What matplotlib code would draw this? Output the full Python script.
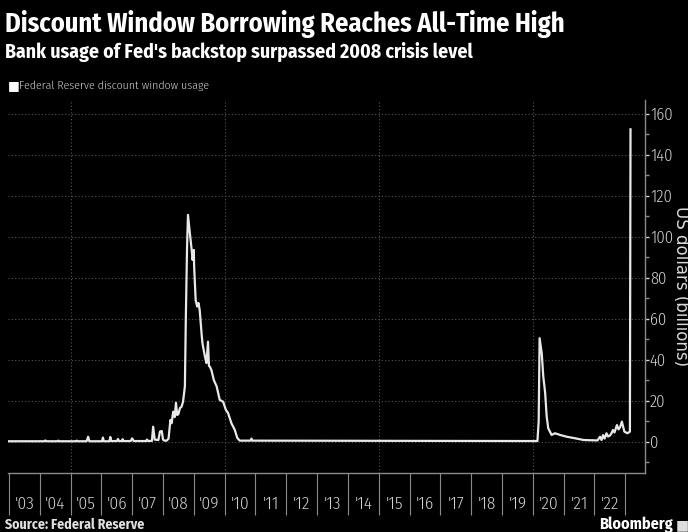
import numpy as np
import matplotlib
matplotlib.use("Agg")
import matplotlib.pyplot as plt
from matplotlib.ticker import FixedLocator, NullFormatter, FixedFormatter

## Data (decimal years, US$ billions)
dates = [2003.00, 2004.15, 2004.18, 2004.21, 2004.58, 2004.60, 2004.63, 2005.18, 2005.20, 2005.23,
         2005.52, 2005.57, 2005.61, 2006.02, 2006.05, 2006.08, 2006.26, 2006.29, 2006.32, 2006.50,
         2006.54, 2006.57, 2006.66, 2006.69, 2006.72, 2006.95, 2007.00, 2007.05, 2007.45, 2007.48,
         2007.52, 2007.64, 2007.68, 2007.73, 2007.85, 2007.90, 2007.96, 2008.00, 2008.05, 2008.12,
         2008.18, 2008.24, 2008.28, 2008.33, 2008.38, 2008.42, 2008.46, 2008.50, 2008.55, 2008.60,
         2008.65, 2008.71, 2008.74, 2008.78, 2008.81, 2008.87, 2008.93, 2008.96, 2009.00, 2009.01,
         2009.06, 2009.11, 2009.15, 2009.19, 2009.25, 2009.28, 2009.36, 2009.41, 2009.46, 2009.49,
         2009.52, 2009.57, 2009.65, 2009.74, 2009.84, 2009.95, 2010.04, 2010.11, 2010.22, 2010.33,
         2010.41, 2010.49, 2010.84, 2010.87, 2010.90, 2020.15, 2020.19, 2020.22, 2020.29, 2020.34,
         2020.40, 2020.45, 2020.50, 2020.61, 2020.72, 2020.88, 2021.10, 2021.32, 2021.65, 2022.10,
         2022.18, 2022.23, 2022.28, 2022.33, 2022.39, 2022.44, 2022.50, 2022.55, 2022.60, 2022.65,
         2022.73, 2022.78, 2022.83, 2022.89, 2022.97, 2023.07, 2023.15, 2023.17]
usage = [0.2, 0.2, 0.6, 0.2, 0.2, 0.5, 0.2, 0.2, 0.5, 0.2,
         0.2, 2.4, 0.2, 0.2, 2.0, 0.2, 0.2, 2.3, 0.3, 0.3,
         1.3, 0.3, 0.3, 1.2, 0.3, 0.3, 1.6, 0.3, 0.3, 1.0,
         0.3, 0.4, 7.3, 1.0, 0.8, 4.9, 5.2, 1.0, 0.5, 0.5,
         1.5, 10.6, 9.0, 14.6, 12.0, 19.0, 13.0, 13.5, 16.4, 17.0,
         19.5, 27.0, 60.0, 95.0, 110.7, 102.0, 93.6, 88.7, 93.6, 85.4,
         69.0, 66.0, 67.7, 64.3, 53.0, 48.0, 41.5, 38.4, 48.8, 37.0,
         36.6, 35.0, 30.0, 27.0, 20.4, 19.5, 15.5, 14.0, 9.0, 5.7,
         1.8, 0.5, 0.5, 1.5, 0.5, 0.3, 10.0, 50.5, 43.0, 31.7,
         23.8, 12.2, 6.5, 3.3, 4.1, 3.3, 2.4, 1.8, 0.8, 0.6,
         2.4, 0.8, 3.2, 1.5, 4.1, 2.5, 3.0, 4.0, 5.7, 4.5,
         8.1, 6.0, 7.0, 9.8, 4.9, 4.1, 4.9, 152.5]

years = list(range(2003, 2024))
year_labels = ["'%02d" % (y % 100) for y in range(2003, 2023)]
grid_years = [2005, 2010, 2015, 2020]
y_ticks = list(range(0, 161, 20))

COND = "Fira Sans Condensed"

## Figure
fig = plt.figure(figsize=(6.88, 5.32), dpi=100, facecolor="black")
ax = fig.add_axes([8/688, 1 - 473/532, 637/688, 373/532], facecolor="black")

ax.plot(dates, usage, color="#e8e8e8", lw=1.6, solid_joinstyle="round", zorder=3)

ax.set_xlim(2002.97, 2023.64)
ax.set_ylim(-15.3, 166.8)

# grid
for g in grid_years:
    ax.axvline(g, color="#555555", lw=0.8, ls=(0, (1, 2)), zorder=1)
for t in y_ticks:
    ax.axhline(t, color="#555555", lw=0.8, ls=(0, (1, 2)), zorder=1)

# spines
for s in ["left", "top"]:
    ax.spines[s].set_visible(False)
for s in ["right", "bottom"]:
    ax.spines[s].set_color("#8a8a8a")
    ax.spines[s].set_linewidth(1.0)

# y axis on right
ax.yaxis.tick_right()
ax.set_yticks(y_ticks)
ax.yaxis.set_minor_locator(FixedLocator(list(range(-10, 160, 20))))
ax.tick_params(axis="y", which="major", colors="#d0d0d0", length=3, width=1.0,
               pad=0.5, labelsize=12)
ax.tick_params(axis="y", which="minor", colors="#8a8a8a", length=3, width=1.0)
for lab in ax.get_yticklabels():
    lab.set_family(COND)
    lab.set_fontweight(300)
ax.set_ylabel("US dollars (billions)", rotation=270, color="#d8d8d8", fontsize=12,
              family="DejaVu Sans", va="center", ha="center")
ax.yaxis.set_label_coords((681 - 8) / 637, 0.5)

# x axis: year boundaries as long ticks, labels centred in each year
ax.xaxis.set_major_locator(FixedLocator(years))
ax.xaxis.set_major_formatter(NullFormatter())
ax.xaxis.set_minor_locator(FixedLocator([y + 0.5 for y in range(2003, 2023)]))
ax.xaxis.set_minor_formatter(FixedFormatter(year_labels))
ax.tick_params(axis="x", which="major", colors="#8a8a8a", length=30, width=0.8)
ax.tick_params(axis="x", which="minor", length=0, pad=17, labelsize=12.5, labelcolor="#d0d0d0")
for lab in ax.xaxis.get_minorticklabels():
    lab.set_family(COND)
    lab.set_fontweight(300)

# titles and notes
fig.text(5/688, 1 - 32/532, "Discount Window Borrowing Reaches All-Time High", color="white",
         fontsize=19, fontweight="bold", family=COND)
fig.text(5/688, 1 - 58/532, "Bank usage of Fed's backstop surpassed 2008 crisis level", color="white",
         fontsize=14.2, fontweight="bold", family=COND)
fig.text(8/688, 1 - 89/532, "\u25A0", color="white", fontsize=9, family="DejaVu Sans")
fig.text(19/688, 1 - 89/532, "Federal Reserve discount window usage", color="#cfcfcf",
         fontsize=8.5, family=COND, fontweight=300)
fig.text(5/688, 1 - 529/532, "Source: Federal Reserve", color="#e0e0e0",
         fontsize=10, fontweight="bold", family=COND)
fig.text(673/688, 1 - 529/532, "Bloomberg", color="white", ha="right",
         fontsize=11.5, fontweight="bold", family=COND)
fig.text(676/688, 1 - 529/532, "\u25A0", color="#dddddd", fontsize=10, family="DejaVu Sans")

plt.savefig("out.png", dpi=100, facecolor="black")
